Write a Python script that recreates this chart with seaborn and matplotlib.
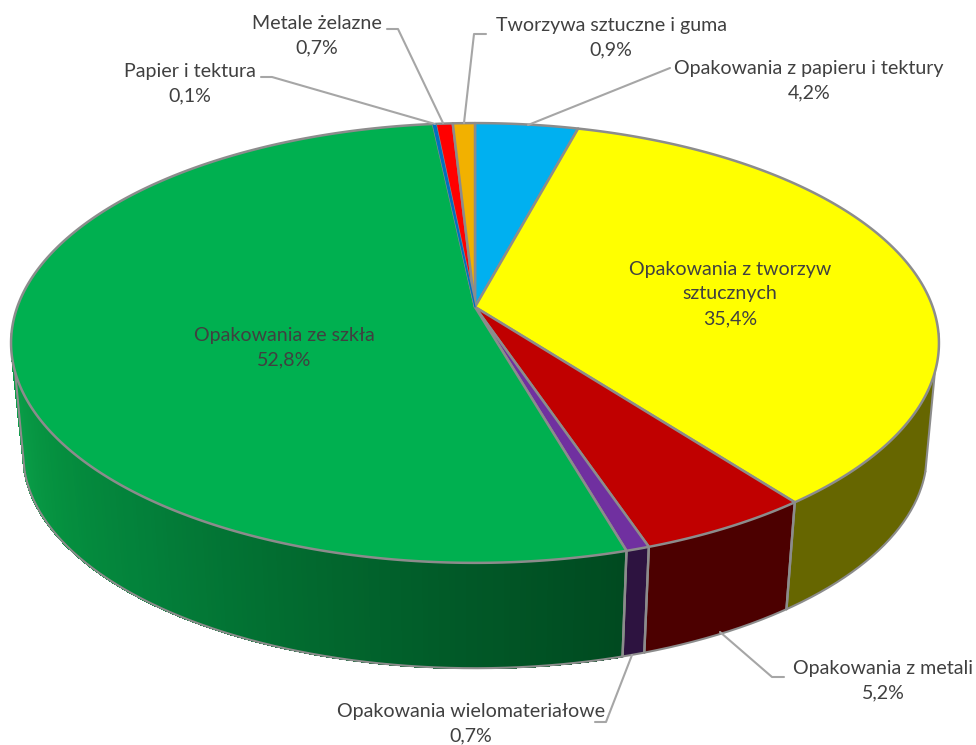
import numpy as np
import seaborn as sns
import matplotlib
matplotlib.use("Agg")
import matplotlib.pyplot as plt
from matplotlib.collections import PolyCollection

# clockwise from twelve o'clock
labels = ["Opakowania z papieru i tektury", "Opakowania z tworzyw\nsztucznych", "Opakowania z metali",
          "Opakowania wielomateriałowe", "Opakowania ze szkła", "Papier i tektura",
          "Metale żelazne", "Tworzywa sztuczne i guma"]
values = [4.2, 35.4, 5.2, 0.7, 52.8, 0.1, 0.7, 0.9]
top_colors = ["#00B0F0", "#FFFF00", "#C00000", "#7030A0", "#00B050", "#0070C0", "#FF0000", "#F2B100"]
side_colors = ["#004E6B", "#666600", "#4C0000", "#2D1340", "#004D23", "#003050", "#660000", "#664D00"]
green_side = ["#0A9E48", "#05903F", "#03803A", "#026C30", "#015A28", "#004A20"]

label_pos = [(809, 81), (730, 294), (883, 681), (471, 724), (284, 348), (190, 84), (317, 36), (611, 38)]
leaders = [[(670, 68), (528, 125)],
           None,
           [(720, 632), (772, 677), (784, 677)],
           [(632, 655), (606, 722), (595, 722)],
           None,
           [(261, 77), (272, 77), (435, 124)],
           [(387, 29), (398, 29), (443, 123)],
           [(486, 34), (474, 34), (464, 123)]]

sns.set_theme(style="white")
plt.rcParams["font.family"] = ["Lato", "DejaVu Sans"]

EDGE = "#8C8C8C"
TEXT = "#404040"
LEAD = "#A6A6A6"
K, B, A = 0.1636, 214.0, 457.7
CX, CY = 475.0, 307.0
BOT_S, BOT_Y = 0.974, 419.0


def project(theta, scale=1.0, cy=CY):
    theta = np.atleast_1d(theta)
    w = 1 + K * np.cos(theta)
    return np.column_stack([CX + scale * A * np.sin(theta) / w,
                            cy - scale * B * np.cos(theta) / w])


def bottom(theta):
    return project(theta, BOT_S, BOT_Y)


fig, ax = plt.subplots(figsize=(9.76, 7.45), dpi=100)
fig.subplots_adjust(0, 0, 1, 1)
ax.set_xlim(0, 976)
ax.set_ylim(745, 0)
ax.axis("off")

edges = np.radians(np.concatenate([[0], np.cumsum(values)]) * 3.6)
# the wall outline leaves the top rim and the bottom rim at different angles
top_a, top_b = np.radians(97), np.radians(263)
bot_a, bot_b = np.radians(104), np.radians(256)

# side wall first, top face goes over it
for i, v in enumerate(values):
    a, b = max(edges[i], bot_a), min(edges[i + 1], bot_b)
    if b <= a:
        continue
    ta, tb = max(edges[i], top_a), min(edges[i + 1], top_b)
    if labels[i] == "Opakowania ze szkła":
        grad = sns.blend_palette(green_side, 160)[::-1]
        steps = np.linspace(a, b, len(grad) + 1)
        quads = []
        for s0, s1 in zip(steps[:-1], steps[1:]):
            t = np.linspace(s0, s1, 4)
            quads.append(np.vstack([project(t), bottom(t[::-1])]))
        ax.add_collection(PolyCollection(quads, facecolors=grad, edgecolors=grad, linewidths=1.0,
                                         antialiaseds=False, zorder=2))
        t = np.linspace(b, tb, 10)
        ax.fill(*np.vstack([project(t), bottom(np.array([b]))]).T, color=grad[-1], lw=0, zorder=2)
    else:
        ax.fill(*np.vstack([project(np.linspace(ta, tb, 100)), bottom(np.linspace(b, a, 100))]).T,
                color=side_colors[i], lw=0, zorder=2)
    for e in (edges[i], edges[i + 1]):
        if bot_a < e < bot_b:
            ax.plot(*np.vstack([project(e), bottom(e)]).T, color=EDGE, lw=1.7, zorder=3)

ax.plot(*bottom(np.linspace(bot_a, bot_b, 300)).T, color=EDGE, lw=1.5, zorder=3)
ax.plot(*np.vstack([project(top_a), bottom(bot_a)]).T, color=EDGE, lw=1.5, zorder=3)
ax.plot(*np.vstack([project(top_b), bottom(bot_b)]).T, color=EDGE, lw=1.5, zorder=3)

centre = np.array([[CX, CY]])
for i, v in enumerate(values):
    t = np.linspace(edges[i], edges[i + 1], max(int(v * 6), 4))
    thin = v < 0.5
    ax.fill(*np.vstack([centre, project(t)]).T, facecolor=top_colors[i],
            edgecolor=top_colors[i] if thin else EDGE, lw=0.9 if thin else 1.8,
            joinstyle="round", zorder=4.5 if thin else 4)

for i, v in enumerate(values):
    if leaders[i]:
        ax.plot(*np.array(leaders[i]).T, color=LEAD, lw=1.5, zorder=5)
    txt = f"{labels[i]}\n{v:.1f}%".replace(".", ",")
    ax.text(*label_pos[i], txt, ha="center", va="center", color=TEXT, fontsize=14.1, linespacing=1.54, zorder=6)

fig.savefig("out.png", dpi=100)
